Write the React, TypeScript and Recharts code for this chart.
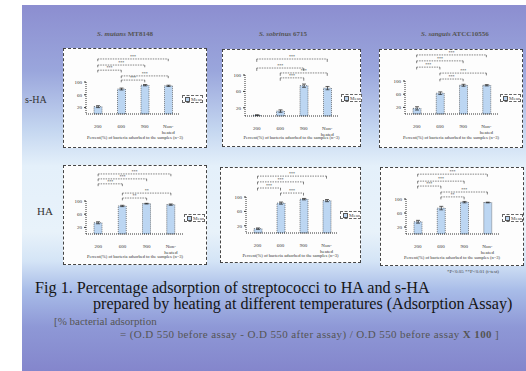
import React from 'react';
import { BarChart, Bar, XAxis, YAxis, ReferenceLine, ErrorBar } from 'recharts';

// heating temperatures (categories) and y ticks
const categories = ['200', '600', '900', 'Non-heated'];
const yTicks = [0, 20, 40, 60, 80, 100];

// % bacterial adsorption
const sHaMutans = [23, 78, 90, 88];
const sHaSobrinus = [2, 12, 74, 68];
const sHaSanguis = [17, 63, 87, 87];
const haMutans = [34, 85, 92, 89];
const haSobrinus = [12, 83, 94, 90];
const haSanguis = [35, 74, 91, 90];

const sHaMutansErr = [3, 3, 2, 2];
const sHaSobrinusErr = [1, 3, 4, 4];
const sHaSanguisErr = [5, 4, 3, 2];
const haMutansErr = [3, 2, 1, 2];
const haSobrinusErr = [2, 3, 2, 3];
const haSanguisErr = [4, 5, 2, 1];

// significance brackets: [from, to, level (y units), mark]
type Bracket = [number, number, number, string];
const sHaMutansBr: Bracket[] = [[0, 3, 172, '***'], [0, 2, 153, '***'], [0, 1, 137, '***'], [1, 3, 119, '***'], [1, 2, 106, '***']];
const sHaSobrinusBr: Bracket[] = [[0, 3, 139, '***'], [0, 2, 117, '***'], [1, 3, 105, '***'], [1, 2, 93, '***']];
const sHaSanguisBr: Bracket[] = [[0, 3, 179, '***'], [0, 2, 161, '***'], [0, 1, 142, '***'], [1, 3, 124, '***'], [1, 2, 106, '***']];
const haMutansBr: Bracket[] = [[0, 3, 182, '***'], [0, 2, 167, '***'], [0, 1, 152, '***'], [1, 3, 124, '**'], [1, 2, 109, '**']];
const haSobrinusBr: Bracket[] = [[0, 3, 158, '***'], [0, 2, 142, '***'], [0, 1, 125, '***'], [1, 2, 111, '***']];
const haSanguisBr: Bracket[] = [[0, 3, 171, '***'], [0, 2, 151, '***'], [0, 1, 137, '***'], [1, 3, 120, '***'], [1, 2, 106, '**']];

const footer = 'Percent(%) of bacteria adsorbed to the samples (n=3)';

type Geo = {
    box: { l: number; t: number; r: number; b: number };
    plot: { l: number; r: number; top: number; bottom: number };
    legend: { x: number; y: number };
    footerY: number;
};

const CatTick = (props: any) => {
    const { x, y, payload } = props;
    const v: string = payload.value;
    const parts = v.includes('-') ? [v.split('-')[0] + '-', v.split('-')[1]] : [v];
    return (
        <text x={x} y={y + 6} textAnchor="middle" fontSize={5} fill="#333" fontFamily="Liberation Serif">
            {parts.map((p, i) => (
                <tspan key={i} x={x} dy={i ? 5.5 : 0}>{p}</tspan>
            ))}
        </text>
    );
};

function Panel({ values, errs, brackets, geo }: { values: number[]; errs: number[]; brackets: Bracket[]; geo: Geo }) {
    const { box, plot, legend, footerY } = geo;
    const data = categories.map((c, i) => ({ cat: c, v: values[i], e: errs[i] }));
    const yW = 14;
    const w = box.r - box.l;
    const h = plot.bottom - box.t + 20;
    return (
        <>
            <div style={{
                position: 'absolute', left: box.l, top: box.t, width: w, height: box.b - box.t,
                boxSizing: 'border-box', background: '#fdfdfd', border: '1px dashed #444'
            }} />
            <div style={{ position: 'absolute', left: box.l, top: box.t }}>
                <BarChart width={w} height={h} data={data}
                    margin={{ top: plot.top - box.t, right: box.r - plot.r, left: plot.l - box.l - yW, bottom: 0 }}>
                    <XAxis dataKey="cat" height={20} tick={<CatTick />} tickLine={false} interval={0}
                        axisLine={{ stroke: '#333', strokeDasharray: '1 1' }} />
                    <YAxis width={yW} domain={[0, 100]} ticks={yTicks} tickSize={2}
                        tick={{ fontSize: 5, fill: '#333', fontFamily: 'Liberation Serif' }}
                        axisLine={{ stroke: '#333', strokeDasharray: '1 1' }} tickLine={{ stroke: '#333' }} />
                    <Bar dataKey="v" barSize={8} fill="#bcd6f2" stroke="#333" strokeWidth={0.6}
                        strokeDasharray="1 1" isAnimationActive={false}>
                        <ErrorBar dataKey="e" width={2} stroke="#222" strokeWidth={0.7} />
                    </Bar>
                    {brackets.map(([a, b, lv, mark], i) => (
                        <ReferenceLine key={'h' + i} ifOverflow="visible" stroke="#333" strokeWidth={0.6}
                            strokeDasharray="1.5 1"
                            segment={[{ x: categories[a], y: lv }, { x: categories[b], y: lv }]}
                            label={{ value: mark, position: 'top', offset: 1, fontSize: 4, fill: '#222' }} />
                    ))}
                    {brackets.map(([a, , lv], i) => (
                        <ReferenceLine key={'a' + i} ifOverflow="visible" stroke="#333" strokeWidth={0.6}
                            segment={[{ x: categories[a], y: lv }, { x: categories[a], y: lv - 7 }]} />
                    ))}
                    {brackets.map(([, b, lv], i) => (
                        <ReferenceLine key={'b' + i} ifOverflow="visible" stroke="#333" strokeWidth={0.6}
                            segment={[{ x: categories[b], y: lv }, { x: categories[b], y: lv - 7 }]} />
                    ))}
                </BarChart>
            </div>
            <div style={{
                position: 'absolute', left: legend.x, top: legend.y, width: 21, height: 8, boxSizing: 'border-box',
                border: '1px dashed #666', background: '#fff', display: 'flex', alignItems: 'center',
                fontSize: 5, lineHeight: '5px', paddingLeft: 2, color: '#444', whiteSpace: 'nowrap', overflow: 'hidden'
            }}>
                <span style={{ display: 'inline-block', width: 3, height: 3, border: '0.5px solid #555', background: '#bcd6f2', marginRight: 1, flex: 'none' }} />
                Mean
            </div>
            <div style={{
                position: 'absolute', left: box.l, width: w, top: footerY, textAlign: 'center',
                fontSize: 4.5, color: '#333', whiteSpace: 'nowrap'
            }}>{footer}</div>
        </>
    );
}

const geoA: Geo = { box: { l: 63, t: 48, r: 207, b: 148 }, plot: { l: 86, r: 180, top: 82, bottom: 114 }, legend: { x: 182, y: 95 }, footerY: 135 };
const geoB: Geo = { box: { l: 222, t: 49, r: 361, b: 147 }, plot: { l: 245, r: 339, top: 75, bottom: 116 }, legend: { x: 341, y: 94 }, footerY: 135 };
const geoC: Geo = { box: { l: 379, t: 49, r: 523, b: 148 }, plot: { l: 405, r: 498, top: 81, bottom: 114 }, legend: { x: 500, y: 94 }, footerY: 135 };
const geoD: Geo = { box: { l: 63, t: 165, r: 207, b: 265 }, plot: { l: 86, r: 183, top: 201, bottom: 234 }, legend: { x: 184, y: 214 }, footerY: 254 };
const geoE: Geo = { box: { l: 220, t: 167, r: 361, b: 263 }, plot: { l: 246, r: 338, top: 197, bottom: 233 }, legend: { x: 340, y: 211 }, footerY: 253 };
const geoF: Geo = { box: { l: 380, t: 167, r: 524, b: 266 }, plot: { l: 406, r: 499, top: 199, bottom: 234 }, legend: { x: 502, y: 214 }, footerY: 255 };

const titleStyle: React.CSSProperties = {
    position: 'absolute', top: 30, fontSize: 7, fontWeight: 'bold', color: '#555', textAlign: 'center', width: 140, whiteSpace: 'nowrap'
};

export default function App() {
    return (
        <div style={{ position: 'absolute', left: 0, top: 0, width: 526, height: 371, background: '#fff', overflow: 'hidden', fontFamily: 'Liberation Serif, serif' }}>
            <div style={{
                position: 'absolute', left: 22, top: 5, right: 0, bottom: 0,
                background: 'linear-gradient(180deg, #8c8ed0 0%, #9aa6dc 18%, #c4d6f0 34%, #e4f0fa 44%, #e8f2fa 62%, #d4e4f6 70%, #a8bce8 78%, #8e98d6 88%, #8486cc 100%)'
            }} />

            <div style={{ ...titleStyle, left: 55 }}><i>S. mutans</i> MT8148</div>
            <div style={{ ...titleStyle, left: 213 }}><i>S. sobrinus</i> 6715</div>
            <div style={{ ...titleStyle, left: 385 }}><i>S. sanguis</i> ATCC10556</div>

            <div style={{ position: 'absolute', left: 25, top: 94, fontSize: 10, color: '#333' }}>s-HA</div>
            <div style={{ position: 'absolute', left: 37, top: 205, fontSize: 11, color: '#333' }}>HA</div>

            <Panel values={sHaMutans} errs={sHaMutansErr} brackets={sHaMutansBr} geo={geoA} />
            <Panel values={sHaSobrinus} errs={sHaSobrinusErr} brackets={sHaSobrinusBr} geo={geoB} />
            <Panel values={sHaSanguis} errs={sHaSanguisErr} brackets={sHaSanguisBr} geo={geoC} />
            <Panel values={haMutans} errs={haMutansErr} brackets={haMutansBr} geo={geoD} />
            <Panel values={haSobrinus} errs={haSobrinusErr} brackets={haSobrinusBr} geo={geoE} />
            <Panel values={haSanguis} errs={haSanguisErr} brackets={haSanguisBr} geo={geoF} />

            <div style={{ position: 'absolute', left: 447, top: 269, fontSize: 5, color: '#444', whiteSpace: 'nowrap' }}>*P&lt;0.05 **P&lt;0.01 (t-test)</div>

            <div style={{ position: 'absolute', left: 35, top: 279, fontSize: 16.2, color: '#151515', whiteSpace: 'nowrap' }}>
                Fig 1. Percentage adsorption of streptococci to HA and s-HA
            </div>
            <div style={{ position: 'absolute', left: 93, top: 295, fontSize: 16.1, color: '#151515', whiteSpace: 'nowrap' }}>
                prepared by heating at different temperatures (Adsorption Assay)
            </div>
            <div style={{ position: 'absolute', left: 54, top: 315, fontSize: 11, color: '#555', whiteSpace: 'nowrap' }}>
                [% bacterial adsorption
            </div>
            <div style={{ position: 'absolute', left: 120, top: 328, fontSize: 11, letterSpacing: 0.4, color: '#555', whiteSpace: 'nowrap' }}>
                = (O.D 550 before assay - O.D 550 after assay) / O.D 550 before assay <b>X 100</b> ]
            </div>
        </div>
    );
}
